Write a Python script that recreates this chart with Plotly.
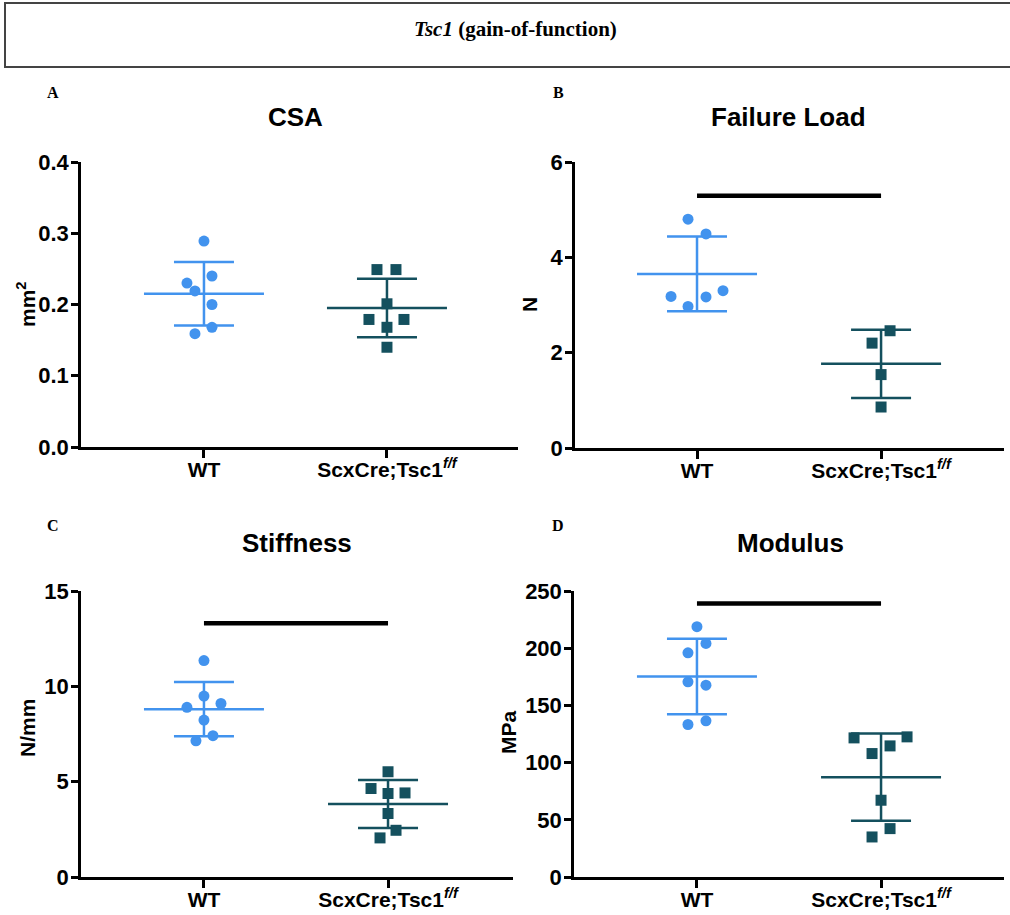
import numpy as np
import plotly.graph_objects as go

# ---------------- data ----------------
groups = ["WT", "ScxCre;Tsc1<sup><i>f/f</i></sup>"]

csa_wt = [0.289, 0.240, 0.230, 0.219, 0.200, 0.168, 0.159]
csa_ko = [0.249, 0.249, 0.201, 0.179, 0.179, 0.168, 0.140]
load_wt = [4.80, 4.49, 3.30, 3.18, 3.17, 2.97]
load_ko = [2.46, 2.20, 1.54, 0.86]
stiff_wt = [11.35, 9.49, 9.10, 8.90, 8.23, 7.41, 7.14]
stiff_ko = [5.52, 4.64, 4.41, 4.38, 3.33, 2.45, 2.05]
mod_wt = [218.8, 204.2, 196.0, 170.6, 167.7, 136.5, 133.3]
mod_ko = [122.5, 121.6, 114.6, 107.9, 67.1, 42.3, 35.0]

panel_titles = ["CSA", "Failure Load", "Stiffness", "Modulus"]
y_titles = ["mm<sup>2</sup>", "N", "N/mm", "MPa"]
panel_letters = ["A", "B", "C", "D"]
y_ticks_csa = [0.0, 0.1, 0.2, 0.3, 0.4]
y_ticks_load = [0, 2, 4, 6]
y_ticks_stiff = [0, 5, 10, 15]
y_ticks_mod = [0, 50, 100, 150, 200, 250]
sig_bar_load = 5.29
sig_bar_stiff = 13.31
sig_bar_mod = 239.0
header_text = "<i>Tsc1</i> (gain-of-function)"

# ---------------- layout / style ----------------
W, H = 1010, 915
WT_COLOR = "#4293EE"
KO_COLOR = "#14505E"
LW = 2.5
MEAN_HALF_PX = 60
CAP_HALF_PX = 30

# pixel boxes of the plot areas (x0, x1, ytop, ybottom) and x ranges
panels = [
    dict(data=(csa_wt, csa_ko), ticks=y_ticks_csa, fmt=".1f", sig=None,
         box=(81, 518, 162, 447), xr=(-0.672, 1.716),
         title_xy=(295, 117), letter_xy=(53, 92), ytitle_xy=(26, 304),
         jitter=([0, 8, -17, -9, 8, 8, -9], [-10, 9, 0, -18, 17, 0, 0])),
    dict(data=(load_wt, load_ko), ticks=y_ticks_load, fmt="d", sig=sig_bar_load,
         box=(575, 1004, 162, 448), xr=(-0.663, 1.668),
         title_xy=(788, 117), letter_xy=(558, 92), ytitle_xy=(530, 305),
         jitter=([-9, 9, 26, -26, 9, -9], [9, -9, 0, 0])),
    dict(data=(stiff_wt, stiff_ko), ticks=y_ticks_stiff, fmt="d", sig=sig_bar_stiff,
         box=(81, 513, 591, 877), xr=(-0.668, 1.679),
         title_xy=(297, 543), letter_xy=(53, 525), ytitle_xy=(27, 728),
         jitter=([0, 0, 17, -17, 0, 9, -8], [0, -17, 17, 0, 0, 8, -8])),
    dict(data=(mod_wt, mod_ko), ticks=y_ticks_mod, fmt="d", sig=sig_bar_mod,
         box=(574, 1004, 591, 877), xr=(-0.668, 1.668),
         title_xy=(790, 543), letter_xy=(558, 525), ytitle_xy=(508, 732),
         jitter=([0, 9, -9, -9, 9, 9, -9], [26, -27, 9, -9, 0, 9, -9])),
]

def px(x):
    return x / W

def py(y):
    return 1 - y / H

fig = go.Figure()
annotations = []
layout_axes = {}

for i, p in enumerate(panels):
    n = i + 1
    xa = "x" if n == 1 else f"x{n}"
    ya = "y" if n == 1 else f"y{n}"
    x0, x1, yt, yb = p["box"]
    ppu = (x1 - x0) / (p["xr"][1] - p["xr"][0])
    half = MEAN_HALF_PX / ppu

    for g, (vals, col, sym, jit) in enumerate(zip(p["data"], (WT_COLOR, KO_COLOR),
                                                  ("circle", "square"), p["jitter"])):
        vals = np.array(vals)
        m = vals.mean()
        sd = vals.std(ddof=1)
        fig.add_trace(go.Scatter(x=[g - half, g + half], y=[m, m], mode="lines",
                                 line=dict(color=col, width=LW), xaxis=xa, yaxis=ya,
                                 showlegend=False, hoverinfo="skip"))
        fig.add_trace(go.Scatter(x=[g], y=[m], mode="markers",
                                 marker=dict(size=1, color="rgba(0,0,0,0)"),
                                 error_y=dict(type="data", array=[sd], color=col,
                                              thickness=LW, width=CAP_HALF_PX),
                                 xaxis=xa, yaxis=ya, showlegend=False, hoverinfo="skip"))
        xs = g + np.array(jit) / ppu
        fig.add_trace(go.Scatter(x=xs, y=vals, mode="markers",
                                 marker=dict(symbol=sym, size=11, color=col),
                                 xaxis=xa, yaxis=ya, showlegend=False))

    if p["sig"] is not None:
        fig.add_trace(go.Scatter(x=[0, 1], y=[p["sig"], p["sig"]], mode="lines",
                                 line=dict(color="black", width=4.5), xaxis=xa, yaxis=ya,
                                 showlegend=False, hoverinfo="skip"))

    xkey = "xaxis" if n == 1 else f"xaxis{n}"
    ykey = "yaxis" if n == 1 else f"yaxis{n}"
    layout_axes[xkey] = dict(domain=[px(x0), px(x1)], range=list(p["xr"]), anchor=ya,
                             tickvals=[0, 1], ticktext=groups, showgrid=False, zeroline=False,
                             showline=True, linecolor="black", linewidth=LW,
                             ticks="outside", ticklen=8, tickwidth=LW, tickcolor="black",
                             ticklabelstandoff=-6,
                             tickfont=dict(family="Liberation Sans", size=21, color="black",
                                           weight="bold"),
                             automargin=False, fixedrange=True)
    t = p["ticks"]
    layout_axes[ykey] = dict(domain=[py(yb), py(yt)], range=[t[0], t[-1]], anchor=xa,
                             tickvals=t, tickformat=p["fmt"], showgrid=False, zeroline=False,
                             showline=True, linecolor="black", linewidth=LW,
                             ticks="outside", ticklen=7, tickwidth=LW, tickcolor="black",
                             ticklabelstandoff=-2,
                             tickfont=dict(family="Liberation Sans", size=22, color="black",
                                           weight="bold"),
                             automargin=False, fixedrange=True)

    tx, ty = p["title_xy"]
    annotations.append(dict(text=panel_titles[i], x=px(tx), y=py(ty), xref="paper", yref="paper",
                            showarrow=False, xanchor="center", yanchor="middle",
                            font=dict(family="Liberation Sans", size=26, color="black",
                                      weight="bold")))
    lx, ly = p["letter_xy"]
    annotations.append(dict(text=panel_letters[i], x=px(lx), y=py(ly), xref="paper", yref="paper",
                            showarrow=False, xanchor="center", yanchor="middle",
                            font=dict(family="Liberation Serif", size=16, color="black",
                                      weight="bold")))
    ax_, ay_ = p["ytitle_xy"]
    annotations.append(dict(text=y_titles[i], x=px(ax_), y=py(ay_), xref="paper", yref="paper",
                            showarrow=False, xanchor="center", yanchor="middle", textangle=-90,
                            font=dict(family="Liberation Sans", size=21, color="black",
                                      weight="bold")))

annotations.append(dict(text=header_text, x=px(515), y=py(29), xref="paper", yref="paper",
                        showarrow=False, xanchor="center", yanchor="middle",
                        font=dict(family="Liberation Serif", size=21, color="black",
                                  weight="bold")))

fig.update_layout(
    width=W, height=H, margin=dict(l=0, r=0, t=0, b=0, pad=0, autoexpand=False), autosize=False,
    paper_bgcolor="white", plot_bgcolor="white", showlegend=False,
    annotations=annotations,
    shapes=[dict(type="rect", xref="paper", yref="paper",
                 x0=px(5), x1=1.03, y0=py(67), y1=py(3),
                 line=dict(color="#444444", width=2))],
    **layout_axes,
)

fig.write_html("out.html", config={"displayModeBar": False, "responsive": False},
               post_script="document.body.style.margin='0';document.body.style.overflow='hidden';")
